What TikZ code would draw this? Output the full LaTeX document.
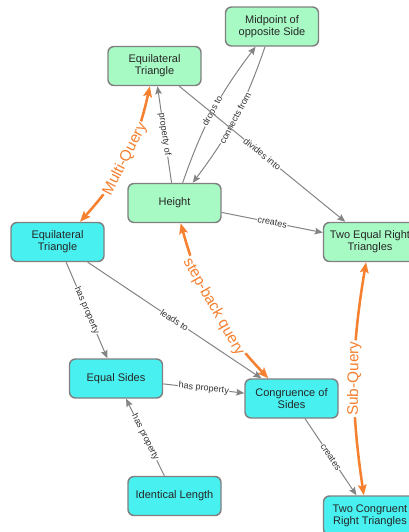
\documentclass[tikz,border=0pt]{standalone}
\usepackage{fontspec}
\setmainfont{Liberation Sans}
\usetikzlibrary{arrows.meta}
\definecolor{nodegreen}{RGB}{168,250,196}
\definecolor{nodecyan}{RGB}{72,240,240}
\definecolor{boxgray}{RGB}{128,128,128}
\definecolor{linkgray}{RGB}{132,132,132}
\definecolor{queryorange}{RGB}{245,128,48}

\begin{document}
\begin{tikzpicture}[x=0.75pt,y=-0.75pt,
  basebox/.style={draw=boxgray,line width=1.1pt,rounded corners=4.5pt,minimum width=69.75pt,minimum height=29.25pt,inner sep=1pt,align=center,font=\fontsize{8.25}{9}\selectfont,text=black!85},
  greenbox/.style={basebox,fill=nodegreen},
  cyanbox/.style={basebox,fill=nodecyan},
  link/.style={draw=linkgray,line width=0.75pt,-{Stealth[length=6pt,width=5pt,inset=1pt]}},
  linklabel/.style={sloped,fill=white,inner sep=0.4pt,font=\fontsize{6.8}{7}\selectfont,text=black!80},
  query/.style={draw=queryorange,line width=1.9pt,{Stealth[length=8pt,width=6.5pt,inset=1.5pt]}-{Stealth[length=8pt,width=6.5pt,inset=1.5pt]}},
  querylabel/.style={sloped,fill=white,inner sep=1pt,font=\fontsize{11.5}{12}\selectfont,text=queryorange}]
\useasboundingbox (0,0) rectangle (408,532);
\node[greenbox] (midpoint) at (272,26.5) {Midpoint of\\opposite Side};
\node[greenbox] (eqtriTop) at (154.5,66) {Equilateral\\Triangle};
\node[greenbox] (height) at (174.5,203) {Height};
\node[cyanbox] (eqtriQ) at (57.5,242) {Equilateral\\Triangle};
\node[greenbox] (twoEqual) at (370,242) {Two Equal Right\\Triangles};
\node[cyanbox] (equalSides) at (116,378.5) {Equal Sides};
\node[cyanbox] (congruence) at (291.5,398.5) {Congruence of\\Sides};
\node[cyanbox] (identLen) at (174.5,496) {Identical Length};
\node[cyanbox] (twoCong) at (370,515.5) {Two Congruent\\Right Triangles};
\draw[query] (eqtriTop.257) to[bend left=15] node[querylabel] {Multi-Query} (eqtriQ.42);
\draw[query] (height.-73) to[bend right=14] node[querylabel] {step-back query} (congruence.139);
\draw[query] (twoCong.107) to[bend left=9] node[querylabel] {Sub-Query} (twoEqual.-101);
\draw[link] (height) -- node[linklabel] {property of} (eqtriTop);
\draw[link] (height.68) to[bend left=9] node[linklabel] {drops to} (midpoint.231);
\draw[link] (midpoint.251) to[bend left=9] node[linklabel] {connects from} (height.48);
\draw[link] (eqtriTop) -- node[linklabel] {divides into} (twoEqual);
\draw[link] (height) -- node[linklabel] {creates} (twoEqual);
\draw[link] (eqtriQ) -- node[linklabel] {has property} (equalSides);
\draw[link] (eqtriQ) -- node[linklabel] {leads to} (congruence);
\draw[link] (equalSides) -- node[linklabel] {has property} (congruence);
\draw[link] (identLen) -- node[linklabel] {has property} (equalSides);
\draw[link] (congruence) -- node[linklabel] {creates} (twoCong);
\end{tikzpicture}
\end{document}
